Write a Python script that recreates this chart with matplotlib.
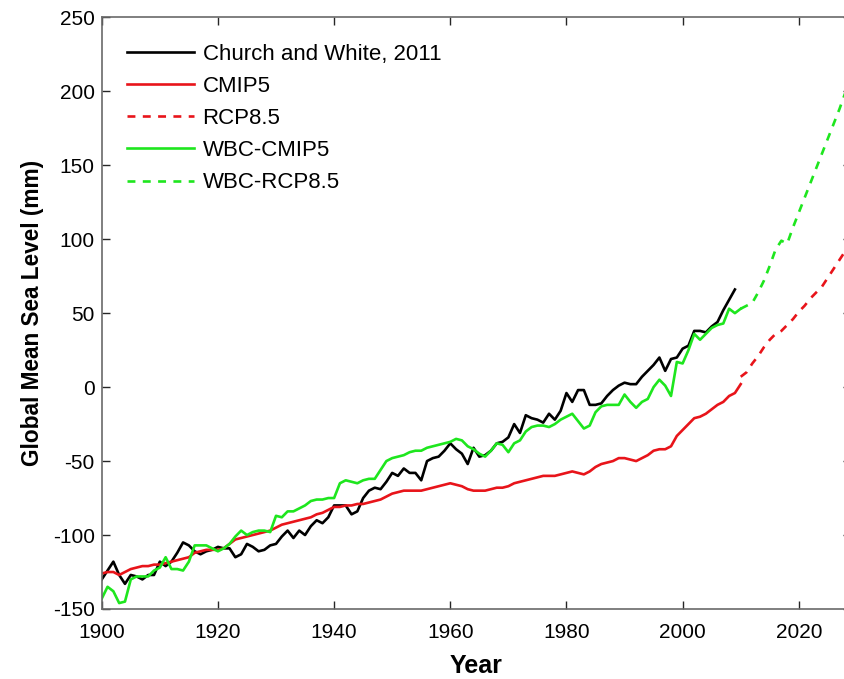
import numpy as np
import matplotlib.pyplot as plt

plt.rcParams['font.family'] = ['Liberation Sans', 'DejaVu Sans']
plt.rcParams['axes.unicode_minus'] = False

# observed record (Church and White, 2011), 1900-2009, mm
cw_years = np.arange(1900, 2010)
cw_gmsl = [-130, -124, -118, -127, -133, -127, -128, -130, -127, -127,
           -118, -121, -118, -112, -105, -107, -111, -113, -111, -110,
           -108, -109, -109, -115, -113, -106, -108, -111, -110, -107,
           -106, -101, -97, -102, -97, -100, -94, -90, -92, -88,
           -80, -80, -80, -86, -84, -75, -70, -68, -69, -64,
           -58, -60, -55, -58, -58, -63, -50, -48, -47, -43,
           -38, -42, -45, -52, -41, -47, -46, -43, -38, -37,
           -34, -25, -31, -19, -21, -22, -24, -18, -22, -16,
           -4, -10, -2, -2, -12, -12, -11, -6, -2, 1,
           3, 2, 2, 7, 11, 15, 20, 11, 19, 20,
           26, 28, 38, 38, 37, 41, 44, 52, 59, 66]

# CMIP5 historical, 1900-2010
cmip_years = np.arange(1900, 2011)
cmip_gmsl = [-126, -125, -125, -127, -125, -123, -122, -121, -121, -120,
             -120, -119, -118, -117, -116, -115, -112, -111, -110, -110,
             -110, -109, -106, -103, -102, -101, -100, -99, -98, -97,
             -95, -93, -92, -91, -90, -89, -88, -86, -85, -83,
             -81, -81, -80, -80, -79, -79, -78, -77, -76, -74,
             -72, -71, -70, -70, -70, -70, -69, -68, -67, -66,
             -65, -66, -67, -69, -70, -70, -70, -69, -68, -68,
             -67, -65, -64, -63, -62, -61, -60, -60, -60, -59,
             -58, -57, -58, -59, -57, -54, -52, -51, -50, -48,
             -48, -49, -50, -48, -46, -43, -42, -42, -40, -33,
             -29, -25, -21, -20, -18, -15, -12, -10, -6, -4,
             2]

# WBC-CMIP5 historical, 1900-2010
wbc_years = np.arange(1900, 2011)
wbc_gmsl = [-143, -135, -138, -146, -145, -130, -128, -128, -128, -124,
            -122, -115, -123, -123, -124, -118, -107, -107, -107, -109,
            -111, -109, -106, -101, -97, -100, -98, -97, -97, -98,
            -87, -88, -84, -84, -82, -80, -77, -76, -76, -75,
            -75, -65, -63, -64, -65, -63, -62, -62, -56, -50,
            -48, -47, -46, -44, -43, -43, -41, -40, -39, -38,
            -37, -35, -36, -40, -42, -45, -47, -43, -38, -39,
            -44, -38, -36, -30, -27, -26, -26, -27, -25, -22,
            -20, -18, -23, -28, -26, -17, -13, -12, -12, -12,
            -5, -10, -14, -10, -8, 0, 5, 1, -6, 17,
            16, 25, 36, 32, 36, 40, 42, 43, 53, 50,
            53]

# projections, 2010-2028
proj_years = np.arange(2010, 2029)
rcp_gmsl = [7, 10, 16, 21, 27, 32, 36, 38, 42, 46,
            51, 55, 60, 64, 68, 74, 80, 86, 92]
wbc_rcp_gmsl = [53, 55, 57, 64, 72, 82, 93, 99, 97, 108,
                118, 128, 138, 148, 158, 168, 178, 188, 199]

red = '#e8141a'
green = '#1ee61e'
dash = (0, (3, 2.8))

fig = plt.figure(figsize=(8.45, 6.79), dpi=100)
ax = fig.add_axes([0.1204, 0.1031, 0.8868, 0.8714])

ax.plot(cw_years, cw_gmsl, color='black', lw=1.9, label='Church and White, 2011')
ax.plot(cmip_years, cmip_gmsl, color=red, lw=1.9, label='CMIP5')
ax.plot(proj_years, rcp_gmsl, color=red, lw=1.9, linestyle=dash, label='RCP8.5')
ax.plot(wbc_years, wbc_gmsl, color=green, lw=1.9, label='WBC-CMIP5')
ax.plot(proj_years, wbc_rcp_gmsl, color=green, lw=1.9, linestyle=dash, label='WBC-RCP8.5')

ax.set_xlim(1900, 2029)
ax.set_ylim(-150, 250)
ax.set_xticks(np.arange(1900, 2021, 20))
ax.set_yticks(np.arange(-150, 251, 50))

ax.tick_params(direction='in', length=5.8, width=1.0, color='#262626',
               labelsize=15, top=True, right=True, labelcolor='black')
ax.tick_params(axis='x', pad=10)
ax.tick_params(axis='y', pad=5)
for s in ax.spines.values():
    s.set_color('#6a6a6a')
    s.set_linewidth(1.2)

ax.set_xlabel('Year', fontsize=18, fontweight='bold', labelpad=9)
ax.set_ylabel('Global Mean Sea Level (mm)', fontsize=16.3, fontweight='bold', labelpad=6)

ax.legend(loc='upper left', bbox_to_anchor=(0.0338, 0.955), frameon=False,
          fontsize=16, borderpad=0, borderaxespad=0, handlelength=3.0,
          handletextpad=0.4, labelspacing=0.5)

fig.savefig('out.png', dpi=100)
